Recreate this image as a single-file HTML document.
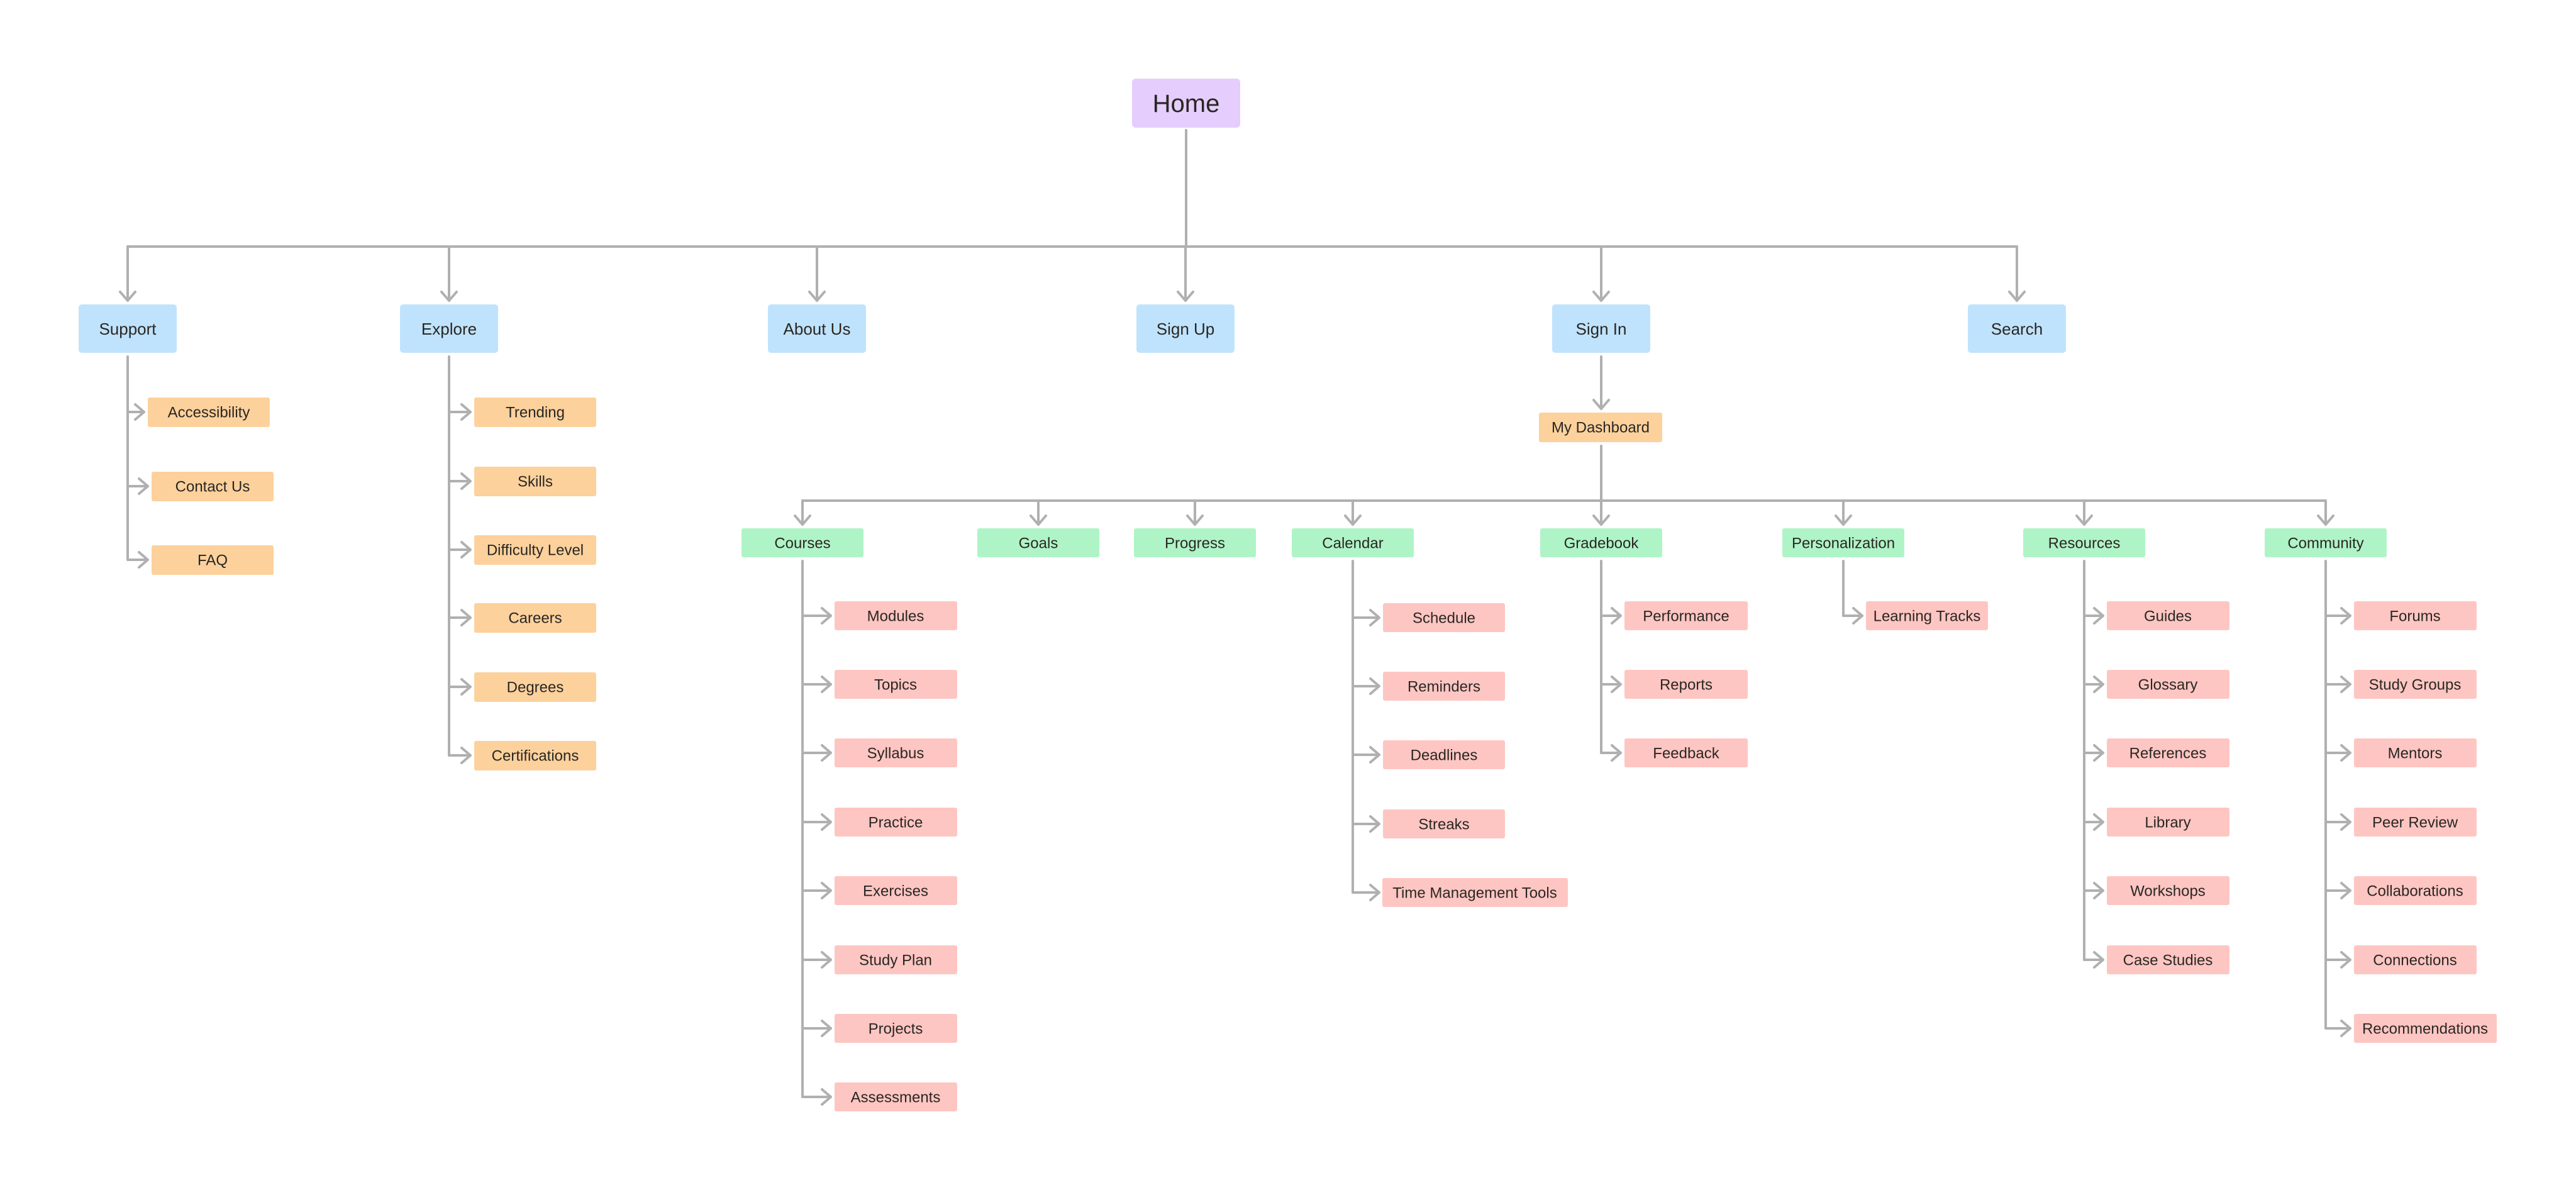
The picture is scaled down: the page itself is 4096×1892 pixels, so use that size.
<!DOCTYPE html>
<html><head><meta charset="utf-8"><style>
html,body{margin:0;padding:0;background:#fff;}
svg{display:block;}
text{font-family:"Liberation Sans",sans-serif;fill:#2a2623;text-anchor:middle;dominant-baseline:central;}
.c{fill:none;stroke:#b0b0b0;stroke-width:4;stroke-linecap:round;stroke-linejoin:round;}
.s{font-size:24px;}
.m{font-size:26px;}
.b{fill:#bfe3fd;}.o{fill:#fcd19c;}.g{fill:#aff4c6;}.r{fill:#fec6c2;}
</style></head><body>
<svg width="4096" height="1892" viewBox="0 0 4096 1892" xmlns="http://www.w3.org/2000/svg">
<g class="c">
<!-- home -->
<path d="M1886 207V392M203 392H3207"/>
<path d="M203 392V478M191 464L203 478L215 464"/>
<path d="M714 392V478M702 464L714 478L726 464"/>
<path d="M1299 392V478M1287 464L1299 478L1311 464"/>
<path d="M1885 392V478M1873 464L1885 478L1897 464"/>
<path d="M2546 392V478M2534 464L2546 478L2558 464"/>
<path d="M3207 392V478M3195 464L3207 478L3219 464"/>
<!-- support -->
<path d="M203 567V890M203 655H229M215 643L229 655L215 667M203 773H235M221 761L235 773L221 785M203 890H235M221 878L235 890L221 902"/>
<!-- explore -->
<path d="M714 567V1201"/>
<path d="M714 655H748M734 643L748 655L734 667M714 765H748M734 753L748 765L734 777M714 874H748M734 862L748 874L734 886M714 982H748M734 970L748 982L734 994M714 1092H748M734 1080L748 1092L734 1104M714 1201H748M734 1189L748 1201L734 1213"/>
<!-- sign in -->
<path d="M2546 567V650M2534 636L2546 650L2558 636M2546 709V796M1276 796H3698"/>
<path d="M1276 796V834M1264 820L1276 834L1288 820M1651 796V834M1639 820L1651 834L1663 820M1900 796V834M1888 820L1900 834L1912 820M2151 796V834M2139 820L2151 834L2163 820M2546 796V834M2534 820L2546 834L2558 820M2931 796V834M2919 820L2931 834L2943 820M3314 796V834M3302 820L3314 834L3326 820M3698 796V834M3686 820L3698 834L3710 820"/>
<!-- courses -->
<path d="M1276 892V1744"/>
<path d="M1276 979H1321M1307 967L1321 979L1307 991M1276 1088H1321M1307 1076L1321 1088L1307 1100M1276 1197H1321M1307 1185L1321 1197L1307 1209M1276 1307H1321M1307 1295L1321 1307L1307 1319M1276 1416H1321M1307 1404L1321 1416L1307 1428M1276 1526H1321M1307 1514L1321 1526L1307 1538M1276 1635H1321M1307 1623L1321 1635L1307 1647M1276 1744H1321M1307 1732L1321 1744L1307 1756"/>
<!-- calendar -->
<path d="M2151 892V1419"/>
<path d="M2151 982H2193M2179 970L2193 982L2179 994M2151 1091H2193M2179 1079L2193 1091L2179 1103M2151 1200H2193M2179 1188L2193 1200L2179 1212M2151 1310H2193M2179 1298L2193 1310L2179 1322M2151 1419H2193M2179 1407L2193 1419L2179 1431"/>
<!-- gradebook -->
<path d="M2546 892V1197M2546 979H2577M2563 967L2577 979L2563 991M2546 1088H2577M2563 1076L2577 1088L2563 1100M2546 1197H2577M2563 1185L2577 1197L2563 1209"/>
<!-- personalization -->
<path d="M2931 892V979H2961M2947 967L2961 979L2947 991"/>
<!-- resources -->
<path d="M3314 892V1526"/>
<path d="M3314 979H3344M3330 967L3344 979L3330 991M3314 1088H3344M3330 1076L3344 1088L3330 1100M3314 1197H3344M3330 1185L3344 1197L3330 1209M3314 1307H3344M3330 1295L3344 1307L3330 1319M3314 1416H3344M3330 1404L3344 1416L3330 1428M3314 1526H3344M3330 1514L3344 1526L3330 1538"/>
<!-- community -->
<path d="M3698 892V1635"/>
<path d="M3698 979H3737M3723 967L3737 979L3723 991M3698 1088H3737M3723 1076L3737 1088L3723 1100M3698 1197H3737M3723 1185L3737 1197L3723 1209M3698 1307H3737M3723 1295L3737 1307L3723 1319M3698 1416H3737M3723 1404L3737 1416L3723 1428M3698 1526H3737M3723 1514L3737 1526L3723 1538M3698 1635H3737M3723 1623L3737 1635L3723 1647"/>
</g>

<!-- Home -->
<rect x="1800" y="125" width="172" height="78" rx="6" fill="#e5cdfd"/>
<text x="1886" y="165" style="font-size:40px">Home</text>

<!-- Level 1 -->
<rect class="b" x="125" y="484" width="156" height="77" rx="5"/><text class="m" x="203" y="523">Support</text>
<rect class="b" x="636" y="484" width="156" height="77" rx="5"/><text class="m" x="714" y="523">Explore</text>
<rect class="b" x="1221" y="484" width="156" height="77" rx="5"/><text class="m" x="1299" y="523">About Us</text>
<rect class="b" x="1807" y="484" width="156" height="77" rx="5"/><text class="m" x="1885" y="523">Sign Up</text>
<rect class="b" x="2468" y="484" width="156" height="77" rx="5"/><text class="m" x="2546" y="523">Sign In</text>
<rect class="b" x="3129" y="484" width="156" height="77" rx="5"/><text class="m" x="3207" y="523">Search</text>

<!-- Support children -->
<rect class="o" x="235" y="632" width="194" height="47" rx="3"/><text class="s" x="332" y="656">Accessibility</text>
<rect class="o" x="241" y="750" width="194" height="47" rx="3"/><text class="s" x="338" y="774">Contact Us</text>
<rect class="o" x="241" y="867" width="194" height="47" rx="3"/><text class="s" x="338" y="891">FAQ</text>

<!-- Explore children -->
<rect class="o" x="754" y="632" width="194" height="47" rx="3"/><text class="s" x="851" y="656">Trending</text>
<rect class="o" x="754" y="742" width="194" height="47" rx="3"/><text class="s" x="851" y="766">Skills</text>
<rect class="o" x="754" y="851" width="194" height="47" rx="3"/><text class="s" x="851" y="875">Difficulty Level</text>
<rect class="o" x="754" y="959" width="194" height="47" rx="3"/><text class="s" x="851" y="983">Careers</text>
<rect class="o" x="754" y="1069" width="194" height="47" rx="3"/><text class="s" x="851" y="1093">Degrees</text>
<rect class="o" x="754" y="1178" width="194" height="47" rx="3"/><text class="s" x="851" y="1202">Certifications</text>

<!-- Dashboard -->
<rect class="o" x="2447" y="656" width="196" height="47" rx="3"/><text class="s" x="2545" y="680">My Dashboard</text>

<!-- Level 2 -->
<rect class="g" x="1179" y="840" width="194" height="46" rx="3"/><text class="s" x="1276" y="864">Courses</text>
<rect class="g" x="1554" y="840" width="194" height="46" rx="3"/><text class="s" x="1651" y="864">Goals</text>
<rect class="g" x="1803" y="840" width="194" height="46" rx="3"/><text class="s" x="1900" y="864">Progress</text>
<rect class="g" x="2054" y="840" width="194" height="46" rx="3"/><text class="s" x="2151" y="864">Calendar</text>
<rect class="g" x="2449" y="840" width="194" height="46" rx="3"/><text class="s" x="2546" y="864">Gradebook</text>
<rect class="g" x="2834" y="840" width="194" height="46" rx="3"/><text class="s" x="2931" y="864">Personalization</text>
<rect class="g" x="3217" y="840" width="194" height="46" rx="3"/><text class="s" x="3314" y="864">Resources</text>
<rect class="g" x="3601" y="840" width="194" height="46" rx="3"/><text class="s" x="3698" y="864">Community</text>

<!-- Courses children -->
<rect class="r" x="1327" y="956" width="195" height="46" rx="3"/><text class="s" x="1424" y="980">Modules</text>
<rect class="r" x="1327" y="1065" width="195" height="46" rx="3"/><text class="s" x="1424" y="1089">Topics</text>
<rect class="r" x="1327" y="1174" width="195" height="46" rx="3"/><text class="s" x="1424" y="1198">Syllabus</text>
<rect class="r" x="1327" y="1284" width="195" height="46" rx="3"/><text class="s" x="1424" y="1308">Practice</text>
<rect class="r" x="1327" y="1393" width="195" height="46" rx="3"/><text class="s" x="1424" y="1417">Exercises</text>
<rect class="r" x="1327" y="1503" width="195" height="46" rx="3"/><text class="s" x="1424" y="1527">Study Plan</text>
<rect class="r" x="1327" y="1612" width="195" height="46" rx="3"/><text class="s" x="1424" y="1636">Projects</text>
<rect class="r" x="1327" y="1721" width="195" height="46" rx="3"/><text class="s" x="1424" y="1745">Assessments</text>

<!-- Calendar children -->
<rect class="r" x="2199" y="959" width="194" height="46" rx="3"/><text class="s" x="2296" y="983">Schedule</text>
<rect class="r" x="2199" y="1068" width="194" height="46" rx="3"/><text class="s" x="2296" y="1092">Reminders</text>
<rect class="r" x="2199" y="1177" width="194" height="46" rx="3"/><text class="s" x="2296" y="1201">Deadlines</text>
<rect class="r" x="2199" y="1287" width="194" height="46" rx="3"/><text class="s" x="2296" y="1311">Streaks</text>
<rect class="r" x="2198" y="1396" width="295" height="46" rx="3"/><text class="s" x="2345" y="1420">Time Management Tools</text>

<!-- Gradebook children -->
<rect class="r" x="2583" y="956" width="196" height="46" rx="3"/><text class="s" x="2681" y="980">Performance</text>
<rect class="r" x="2583" y="1065" width="196" height="46" rx="3"/><text class="s" x="2681" y="1089">Reports</text>
<rect class="r" x="2583" y="1174" width="196" height="46" rx="3"/><text class="s" x="2681" y="1198">Feedback</text>

<!-- Personalization child -->
<rect class="r" x="2967" y="956" width="194" height="46" rx="3"/><text class="s" x="3064" y="980">Learning Tracks</text>

<!-- Resources children -->
<rect class="r" x="3350" y="956" width="195" height="46" rx="3"/><text class="s" x="3447" y="980">Guides</text>
<rect class="r" x="3350" y="1065" width="195" height="46" rx="3"/><text class="s" x="3447" y="1089">Glossary</text>
<rect class="r" x="3350" y="1174" width="195" height="46" rx="3"/><text class="s" x="3447" y="1198">References</text>
<rect class="r" x="3350" y="1284" width="195" height="46" rx="3"/><text class="s" x="3447" y="1308">Library</text>
<rect class="r" x="3350" y="1393" width="195" height="46" rx="3"/><text class="s" x="3447" y="1417">Workshops</text>
<rect class="r" x="3350" y="1503" width="195" height="46" rx="3"/><text class="s" x="3447" y="1527">Case Studies</text>

<!-- Community children -->
<rect class="r" x="3743" y="956" width="195" height="46" rx="3"/><text class="s" x="3840" y="980">Forums</text>
<rect class="r" x="3743" y="1065" width="195" height="46" rx="3"/><text class="s" x="3840" y="1089">Study Groups</text>
<rect class="r" x="3743" y="1174" width="195" height="46" rx="3"/><text class="s" x="3840" y="1198">Mentors</text>
<rect class="r" x="3743" y="1284" width="195" height="46" rx="3"/><text class="s" x="3840" y="1308">Peer Review</text>
<rect class="r" x="3743" y="1393" width="195" height="46" rx="3"/><text class="s" x="3840" y="1417">Collaborations</text>
<rect class="r" x="3743" y="1503" width="195" height="46" rx="3"/><text class="s" x="3840" y="1527">Connections</text>
<rect class="r" x="3743" y="1612" width="227" height="46" rx="3"/><text class="s" x="3856" y="1636">Recommendations</text>
</svg>
</body></html>
